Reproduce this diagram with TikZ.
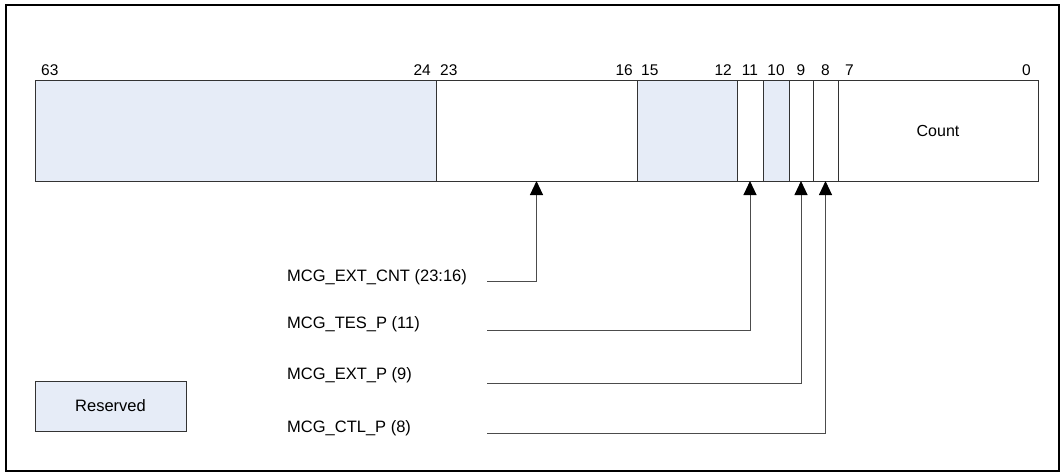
\documentclass[tikz,border=0pt]{standalone}
\usepackage{fontspec}
\setmainfont{Liberation Sans}
\usetikzlibrary{arrows.meta}
\definecolor{resblue}{RGB}{230,236,247}

\begin{document}
\begin{tikzpicture}[
  x=1pt, y=-1pt,
  field/.style={draw=black!80, rectangle, minimum height=101pt, inner sep=0pt, outer sep=0pt, fill=white, line width=1pt, font=\fontsize{16}{19}\selectfont},
  reserved/.style={field, fill=resblue},
  bitnum/.style={inner sep=0pt, font=\fontsize{15.5}{18}\selectfont},
  flabel/.style={inner sep=0pt, anchor=base west, font=\fontsize{16.5}{19}\selectfont},
  arrow/.style={-{Triangle[length=14pt, width=13pt, color=black]}, draw=black!70, line width=1pt}
]

\useasboundingbox (0,0) rectangle (1063,472);
\draw[line width=2pt] (6,5) rectangle (1059,471);

% Register fields, bits 63..0
\node[reserved, minimum width=401pt] (res63) at (235.5, 130.5) {};
\node[field, minimum width=201pt] (extcnt) at (536.5, 130.5) {};
\node[reserved, minimum width=100pt] (res15) at (687, 130.5) {};
\node[field, minimum width=26pt] (tes) at (750, 130.5) {};
\node[reserved, minimum width=26pt] (res10) at (776, 130.5) {};
\node[field, minimum width=24pt] (extp) at (801, 130.5) {};
\node[field, minimum width=25pt] (ctl) at (825.5, 130.5) {};
\node[field, minimum width=200pt] (count) at (938, 130.5) {Count};

% Bit numbers above the fields
\node[bitnum, anchor=base west] (n63) at (41, 75) {63};
\node[bitnum, anchor=base east] (n24) at (431, 75) {24};
\node[bitnum, anchor=base west] (n23) at (440, 75) {23};
\node[bitnum, anchor=base east] (n16) at (633, 75) {16};
\node[bitnum, anchor=base west] (n15) at (641, 75) {15};
\node[bitnum, anchor=base east] (n12) at (732, 75) {12};
\node[bitnum, anchor=base] (n11) at (750, 75) {11};
\node[bitnum, anchor=base] (n10) at (776, 75) {10};
\node[bitnum, anchor=base] (n9) at (801, 75) {9};
\node[bitnum, anchor=base] (n8) at (825.5, 75) {8};
\node[bitnum, anchor=base west] (n7) at (845, 75) {7};
\node[bitnum, anchor=base east] (n0) at (1031, 75) {0};

% Field names
\node[flabel] (lextcnt) at (287, 281) {MCG\_EXT\_CNT (23:16)};
\node[flabel] (ltes) at (287, 328) {MCG\_TES\_P (11)};
\node[flabel] (lextp) at (287, 379) {MCG\_EXT\_P (9)};
\node[flabel] (lctl) at (287, 432) {MCG\_CTL\_P (8)};

% Legend
\node[reserved, minimum width=151pt, minimum height=50pt, font=\fontsize{16.5}{19}\selectfont] (legend) at (110.5, 406) {Reserved};

% Connectors
\coordinate (sextcnt) at (487, 281);
\coordinate (stes) at (487, 330);
\coordinate (sextp) at (487, 383);
\coordinate (sctl) at (487, 433);
\draw[arrow] (sextcnt) -| (extcnt.south);
\draw[arrow] (stes) -| (tes.south);
\draw[arrow] (sextp) -| (extp.south);
\draw[arrow] (sctl) -| (ctl.south);

\end{tikzpicture}
\end{document}
